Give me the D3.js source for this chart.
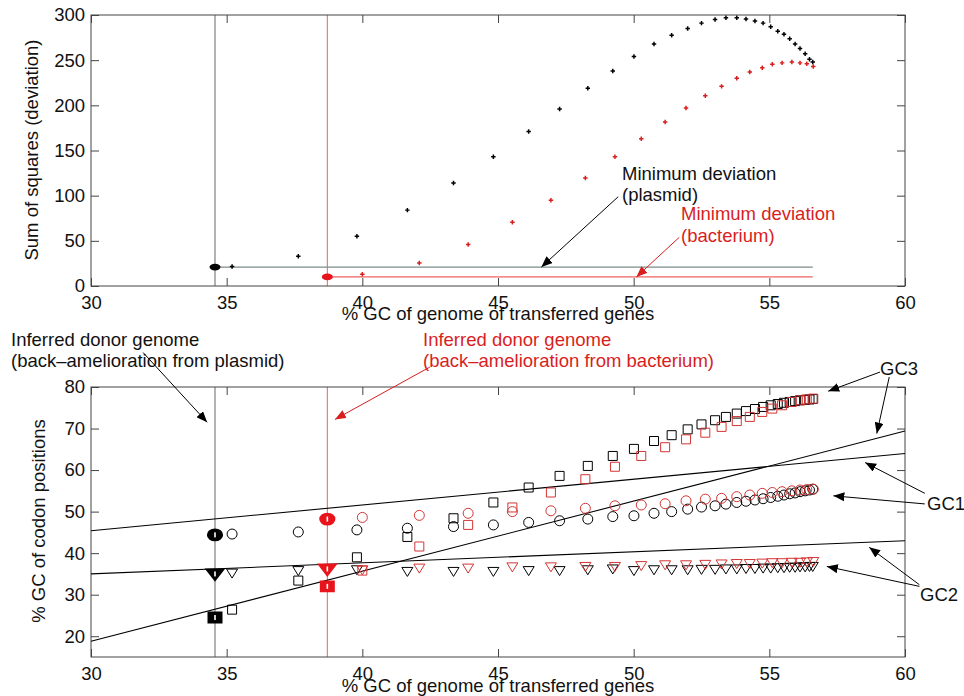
<!DOCTYPE html>
<html><head><meta charset="utf-8">
<script src="https://cdn.jsdelivr.net/npm/d3@7"></script>
<style>
body{margin:0;background:#fff}
svg{display:block}
text{font-family:"Liberation Sans",Arial,Helvetica,sans-serif}
</style>
</head><body>
<svg id="c" width="964" height="696"></svg>
<script>
// ---------- data ----------
// x: %GC of genome of transferred genes (first value = inferred donor genome)
const plasmidGC = [34.57,35.2,37.64,39.8,41.66,43.36,44.83,46.13,47.27,48.31,49.23,50.01,50.75,51.4,51.99,52.5,53.0,53.4,53.8,54.14,54.47,54.77,55.05,55.31,55.54,55.75,55.95,56.13,56.32,56.48,56.6];
const plasmidSS = [21,21.5,33,55,84,114,143,171,196,219,238,254,268,277.5,285,291,295,297,297,295.6,293.4,291,287,282,278.6,273.8,268,263,257,251,248];
const plasmidGC1 = [44.4,44.6,45.1,45.6,46.0,46.4,46.8,47.4,47.8,48.2,48.8,49.0,49.6,50.0,50.6,51.1,51.4,51.8,52.2,52.5,52.8,53.1,53.4,53.7,54.0,54.3,54.5,54.8,55.0,55.2,55.4];
const plasmidGC2 = [35.0,35.2,35.8,36.0,35.6,35.6,35.6,35.8,35.8,36.0,36.2,35.8,36.0,36.0,36.0,36.1,36.1,36.2,36.2,36.3,36.3,36.4,36.4,36.5,36.5,36.6,36.6,36.7,36.7,36.8,36.8];
const plasmidGC3 = [24.5,26.4,33.4,39.0,43.9,48.4,52.2,55.8,58.6,61.0,63.4,65.1,67.0,68.4,69.8,71.0,72.0,72.8,73.6,74.2,74.7,75.2,75.6,75.9,76.2,76.4,76.6,76.8,76.9,77.0,77.1];

const bacteriumGC = [38.71,40.0,42.1,43.9,45.53,46.95,48.22,49.31,50.28,51.16,51.93,52.64,53.24,53.8,54.28,54.74,55.11,55.47,55.83,56.13,56.38,56.62];
const bacteriumSS = [10,13,25.5,46,70.5,95,119.6,143,163,181.6,197,210.7,221,230,237,241.7,245.5,247,248,247,246,243];
const bacteriumGC1 = [48.2,48.6,49.1,49.6,50.0,50.2,50.8,51.4,51.6,51.9,52.6,53.0,53.2,53.6,54.0,54.4,54.6,54.8,55.0,55.2,55.3,55.4];
const bacteriumGC2 = [36.2,36.0,36.4,36.4,36.7,36.7,36.8,36.8,37.0,37.2,37.2,37.3,37.4,37.5,37.5,37.6,37.7,37.7,37.8,37.8,37.9,38.0];
const bacteriumGC3 = [32.0,35.8,41.6,46.8,51.0,54.6,57.8,60.8,63.4,65.5,67.4,69.0,70.4,71.8,72.8,74.0,74.8,75.6,76.4,76.8,77.0,77.2];

// regression lines (x, y) end points
const fitGC1 = [[30,45.4],[60,64.0]];
const fitGC2 = [[30,35.0],[60,43.0]];
const fitGC3 = [[30,18.8],[60,69.4]];

const donorPlasmid = 34.57, donorBacterium = 38.71;
const minDevPlasmid = 21, minDevBacterium = 10;
const minDevEnd = 56.6;

const xTicks = [30,35,40,45,50,55,60];
const topYTicks = [0,50,100,150,200,250,300];
const botYTicks = [20,30,40,50,60,70,80];

const xLabel = "% GC of genome of transferred genes";
const topYLabel = "Sum of squares (deviation)";
const botYLabel = "% GC of codon positions";

// ---------- layout ----------
const svg = d3.select("#c");
const RED = "#d81e1e", RED_MARK = "#d43434", RED_BIG = "#e8141c", RED_LINE = "#ef6262";
const FS = 18.5;
const X0 = 91, X1 = 905;
const x = d3.scaleLinear().domain([30,60]).range([X0,X1]);
const yTop = d3.scaleLinear().domain([0,300]).range([286,15]);
const yBot = d3.scaleLinear().domain([15,80]).range([657,387]);

const defs = svg.append("defs");
function arrowMarker(id, color){
  defs.append("marker").attr("id",id).attr("markerUnits","userSpaceOnUse")
    .attr("markerWidth",12).attr("markerHeight",9).attr("refX",11).attr("refY",4.5)
    .attr("orient","auto")
    .append("path").attr("d","M0,0 L11,4.5 L0,9 Z").attr("fill",color);
}
arrowMarker("ahk","#000");
arrowMarker("ahr",RED);

function styleAxis(g){
  g.select(".domain").remove();
  g.selectAll(".tick line").attr("stroke","#444");
  g.selectAll(".tick text").attr("font-size",FS).attr("fill","#111")
    .attr("font-family",'"Liberation Sans",Arial,sans-serif');
  g.attr("font-family",null).attr("font-size",null);
}

function drawFrame(y, yTicks, y0, y1){
  const g = svg.append("g");
  g.append("g").attr("transform",`translate(0,${y0})`)
    .call(d3.axisBottom(x).tickValues(xTicks).tickSizeInner(-8).tickSizeOuter(0).tickPadding(10))
    .call(styleAxis);
  g.append("g").attr("transform",`translate(0,${y1})`)
    .call(d3.axisTop(x).tickValues(xTicks).tickSizeInner(-8).tickSizeOuter(0).tickFormat(""))
    .call(styleAxis);
  g.append("g").attr("transform",`translate(${X0},0)`)
    .call(d3.axisLeft(y).tickValues(yTicks).tickSizeInner(-8).tickSizeOuter(0).tickPadding(6))
    .call(styleAxis);
  g.append("g").attr("transform",`translate(${X1},0)`)
    .call(d3.axisRight(y).tickValues(yTicks).tickSizeInner(-8).tickSizeOuter(0).tickFormat(""))
    .call(styleAxis);
  g.append("rect").attr("x",X0).attr("y",y1).attr("width",X1-X0).attr("height",y0-y1)
    .attr("fill","none").attr("stroke","#444").attr("stroke-width",1);
}

// ---------- top plot ----------
const topG = svg.append("g");
topG.append("line").attr("x1",x(donorPlasmid)).attr("x2",x(donorPlasmid))
  .attr("y1",yTop(300)).attr("y2",yTop(0)).attr("stroke","#666").attr("stroke-width",1);
topG.append("line").attr("x1",x(donorBacterium)).attr("x2",x(donorBacterium))
  .attr("y1",yTop(300)).attr("y2",yTop(0)).attr("stroke",RED_LINE).attr("stroke-width",1);
topG.append("line").attr("x1",x(donorPlasmid)).attr("x2",x(minDevEnd))
  .attr("y1",yTop(minDevPlasmid)).attr("y2",yTop(minDevPlasmid)).attr("stroke","#7d8c8c").attr("stroke-width",1.2);
topG.append("line").attr("x1",x(donorBacterium)).attr("x2",x(minDevEnd))
  .attr("y1",yTop(minDevBacterium)).attr("y2",yTop(minDevBacterium)).attr("stroke",RED_LINE).attr("stroke-width",1.2);

drawFrame(yTop, topYTicks, 286, 15);

function dots(xs, ys, color, bigColor){
  const g = svg.append("g");
  xs.forEach((xv,i)=>{
    if(i===0){
      g.append("ellipse").attr("cx",x(xv)).attr("cy",yTop(ys[i])).attr("rx",5.5).attr("ry",3.4).attr("fill",bigColor);
    } else {
      g.append("path").attr("transform",`translate(${x(xv)},${yTop(ys[i])})`)
        .attr("d",d3.symbol(d3.symbolCross,11)()).attr("fill",color);
    }
  });
}
dots(plasmidGC, plasmidSS, "#000", "#000");
dots(bacteriumGC, bacteriumSS, RED, RED_BIG);

svg.append("text").attr("x",(X0+X1)/2).attr("y",320).attr("text-anchor","middle")
  .attr("font-size",FS).attr("fill","#111").text(xLabel);
svg.append("text").attr("transform",`translate(38,150) rotate(-90)`).attr("text-anchor","middle")
  .attr("font-size",FS).attr("fill","#111").text(topYLabel);

const ann1 = svg.append("text").attr("font-size",FS).attr("fill","#111");
ann1.append("tspan").attr("x",622).attr("y",180).text("Minimum deviation");
ann1.append("tspan").attr("x",622).attr("y",201).text("(plasmid)");
const ann2 = svg.append("text").attr("font-size",FS).attr("fill",RED);
ann2.append("tspan").attr("x",681).attr("y",220).text("Minimum deviation");
ann2.append("tspan").attr("x",681).attr("y",242).text("(bacterium)");

function arrow(x1,y1,x2,y2,color,mk){
  svg.append("line").attr("x1",x1).attr("y1",y1).attr("x2",x2).attr("y2",y2)
    .attr("stroke",color).attr("stroke-width",1).attr("marker-end",`url(#${mk})`);
}
arrow(x(49.43),yTop(98.8),x(46.6),yTop(minDevPlasmid),"#000","ahk");
arrow(x(51.68),yTop(53.9),x(50.1),yTop(minDevBacterium),RED,"ahr");

// ---------- bottom plot ----------
const botG = svg.append("g");
botG.append("line").attr("x1",x(donorPlasmid)).attr("x2",x(donorPlasmid))
  .attr("y1",yBot(80)).attr("y2",yBot(15)).attr("stroke","#666").attr("stroke-width",1);
botG.append("line").attr("x1",x(donorBacterium)).attr("x2",x(donorBacterium))
  .attr("y1",yBot(80)).attr("y2",yBot(15)).attr("stroke",RED_LINE).attr("stroke-width",1);

drawFrame(yBot, botYTicks, 657, 387);

const fitG = svg.append("g");
[fitGC1, fitGC2, fitGC3].forEach(f=>{
  fitG.append("line").attr("x1",x(f[0][0])).attr("y1",yBot(f[0][1]))
    .attr("x2",x(f[1][0])).attr("y2",yBot(f[1][1])).attr("stroke","#000").attr("stroke-width",1.1);
});

const shapes = {
  circle: "M5,0 A5,5 0 1,1 -5,0 A5,5 0 1,1 5,0 Z",
  square: "M-4.5,-4.5 H4.5 V4.5 H-4.5 Z",
  tri: "M-5.5,-4 H5.5 L0,5 Z"
};
function markers(xs, ys, shape, color, bigColor){
  const g = svg.append("g");
  xs.forEach((xv,i)=>{
    const t = `translate(${x(xv)},${yBot(ys[i])})`;
    if(i===0){
      g.append("path").attr("transform",t+" scale(1.2,0.95)").attr("d",shapes[shape])
        .attr("fill",bigColor).attr("stroke",bigColor).attr("stroke-width",3.5);
      g.append("rect").attr("transform",t).attr("x",-0.8).attr("y",-2.5).attr("width",1.6).attr("height",5).attr("fill","#fff");
    } else {
      g.append("path").attr("transform",t).attr("d",shapes[shape])
        .attr("fill","none").attr("stroke",color).attr("stroke-width",1);
    }
  });
}
markers(plasmidGC, plasmidGC1, "circle", "#000", "#000");
markers(plasmidGC, plasmidGC2, "tri", "#000", "#000");
markers(plasmidGC, plasmidGC3, "square", "#000", "#000");
markers(bacteriumGC, bacteriumGC1, "circle", RED_MARK, RED_BIG);
markers(bacteriumGC, bacteriumGC2, "tri", RED_MARK, RED_BIG);
markers(bacteriumGC, bacteriumGC3, "square", RED_MARK, RED_BIG);

svg.append("text").attr("x",(X0+X1)/2).attr("y",692).attr("text-anchor","middle")
  .attr("font-size",FS).attr("fill","#111").text(xLabel);
svg.append("text").attr("transform",`translate(45,521) rotate(-90)`).attr("text-anchor","middle")
  .attr("font-size",FS).attr("fill","#111").text(botYLabel);

const a3 = svg.append("text").attr("font-size",FS).attr("fill","#111");
a3.append("tspan").attr("x",11).attr("y",346).text("Inferred donor genome");
a3.append("tspan").attr("x",11).attr("y",367).text("(back\u2013amelioration from plasmid)");
const a4 = svg.append("text").attr("font-size",FS).attr("fill",RED);
a4.append("tspan").attr("x",423).attr("y",346).text("Inferred donor genome");
a4.append("tspan").attr("x",423).attr("y",367).text("(back\u2013amelioration from bacterium)");

arrow(x(31.92),yBot(88.3),x(34.28),yBot(71.5),"#000","ahk");
arrow(x(42.49),yBot(84.8),x(38.99),yBot(72.2),RED,"ahr");

const gcLabels = [["GC3",880,375],["GC1",927,510],["GC2",920,601]];
gcLabels.forEach(l=>svg.append("text").attr("x",l[1]).attr("y",l[2]).attr("font-size",FS).attr("fill","#111").text(l[0]));

arrow(x(59.08),yBot(83.6),x(57.17),yBot(79.0),"#000","ahk");
arrow(x(59.42),yBot(82.4),x(58.96),yBot(68.8),"#000","ahk");
arrow(x(60.73),yBot(54.4),x(58.53),yBot(61.8),"#000","ahk");
arrow(x(60.73),yBot(51.85),x(57.36),yBot(53.8),"#000","ahk");
arrow(x(60.53),yBot(32.4),x(58.68),yBot(41.4),"#000","ahk");
arrow(x(60.53),yBot(32.0),x(57.12),yBot(36.8),"#000","ahk");
</script>
</body></html>
